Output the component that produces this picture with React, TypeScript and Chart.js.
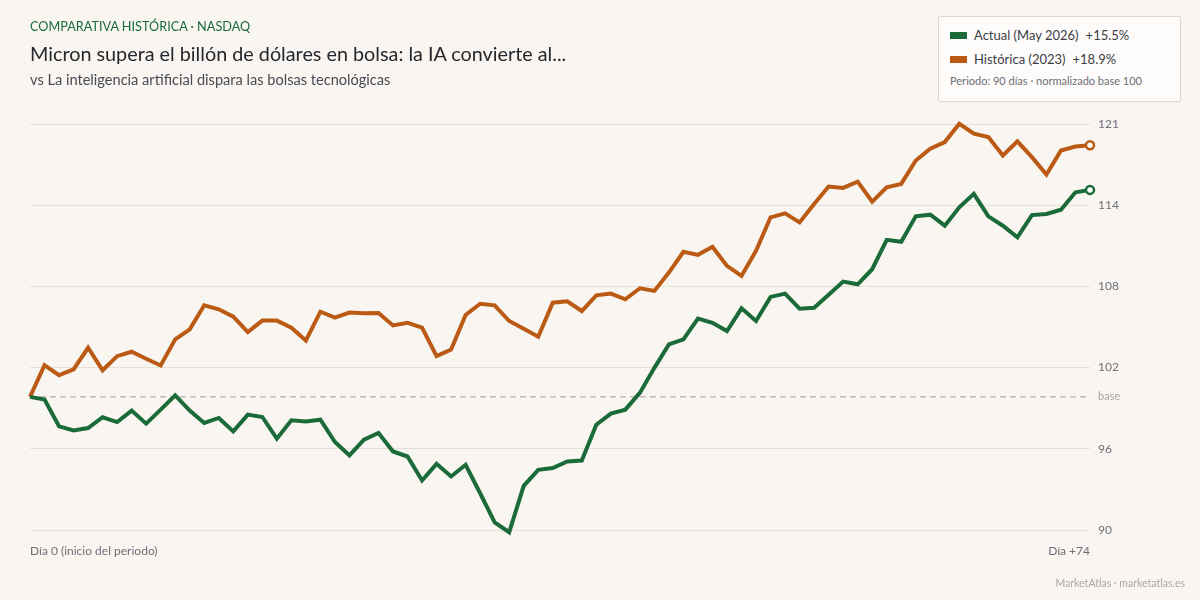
import { useEffect, useRef } from "react";
import { Chart, registerables } from "chart.js";

Chart.register(...registerables);

// ---- Data ----
const actualValues = [
  100.0, 99.8, 97.79, 97.48, 97.66, 98.47, 98.11, 98.97, 97.99, 99.04,
  100.12, 98.97, 98.04, 98.42, 97.41, 98.67, 98.49, 96.86, 98.24, 98.16,
  98.29, 96.61, 95.6, 96.78, 97.29, 95.9, 95.52, 93.72, 94.97, 94.02,
  94.9, 92.76, 90.58, 89.83, 93.32, 94.52, 94.65, 95.15, 95.22, 97.91,
  98.74, 99.04, 100.3, 102.18, 103.94, 104.32, 105.88, 105.57, 104.95, 106.65,
  105.7, 107.51, 107.76, 106.63, 106.7, 107.67, 108.66, 108.46, 109.59, 111.8,
  111.65, 113.56, 113.69, 112.86, 114.24, 115.25, 113.56, 112.86, 111.98, 113.66,
  113.74, 114.06, 115.37, 115.55,
];

const historicaValues = [
  100.0, 102.38, 101.63, 102.06, 103.69, 102.0, 103.06, 103.39, 102.86, 102.36,
  104.32, 105.07, 106.88, 106.58, 106.03, 104.87, 105.73, 105.73, 105.2, 104.24,
  106.4, 105.95, 106.33, 106.28, 106.3, 105.37, 105.57, 105.2, 103.06, 103.56,
  106.15, 107.0, 106.88, 105.7, 105.12, 104.52, 107.08, 107.18, 106.45, 107.63,
  107.76, 107.33, 108.16, 107.96, 109.34, 110.9, 110.67, 111.27, 109.84, 109.09,
  110.97, 113.49, 113.79, 113.11, 114.49, 115.8, 115.7, 116.17, 114.67, 115.75,
  116.0, 117.76, 118.64, 119.14, 120.52, 119.77, 119.52, 118.13, 119.19, 118.01,
  116.7, 118.51, 118.81, 118.9,
];

const dayCategories = actualValues.map((_, i) => String(i));
const baseValue = 100;
const baseLine = actualValues.map(() => baseValue);
const yTickValues = [90, 96.1, 102.2, 108.3, 114.4, 120.5];
const yTickLabels = ["90", "96", "102", "108", "114", "121"];
const baseLabel = "base";
const xFirstLabel = "Día 0 (inicio del periodo)";
const xLastLabel = "Día +74";

const seriesNames = ["Actual (May 2026)", "Histórica (2023)"];
const seriesChanges = ["+15.5%", "+18.9%"];

const GREEN = "#1a6a3a";
const ORANGE = "#bb5a14";
const BG = "#f9f6f1";
const FONT = "Lato, 'Noto Sans', sans-serif";

export default function App() {
  const canvasRef = useRef<HTMLCanvasElement | null>(null);

  useEffect(() => {
    const canvas = canvasRef.current;
    if (!canvas) return;
    const last = actualValues.length - 1;
    Chart.defaults.font.family = FONT;
    const chart = new Chart(canvas, {
      type: "line",
      data: {
        labels: dayCategories,
        datasets: [
          {
            label: "Actual",
            data: actualValues,
            borderColor: GREEN,
            backgroundColor: GREEN,
            borderWidth: 4,
            tension: 0,
            pointRadius: (ctx: any) => (ctx.dataIndex === last ? 4 : 0),
            pointBackgroundColor: "#ffffff",
            pointBorderColor: GREEN,
            pointBorderWidth: 2.5,
            clip: false,
            order: 1,
          },
          {
            label: "Histórica",
            data: historicaValues,
            borderColor: ORANGE,
            backgroundColor: ORANGE,
            borderWidth: 4,
            tension: 0,
            pointRadius: (ctx: any) => (ctx.dataIndex === last ? 4 : 0),
            pointBackgroundColor: "#ffffff",
            pointBorderColor: ORANGE,
            pointBorderWidth: 2.5,
            clip: false,
            order: 2,
          },
          {
            label: "base",
            data: baseLine,
            borderColor: "#a39e98",
            borderWidth: 1,
            borderDash: [6, 4],
            pointRadius: 0,
            tension: 0,
            order: 3,
          },
        ],
      },
      options: {
        responsive: false,
        animation: false,
        layout: { padding: { left: 30, top: 124, right: 0, bottom: 40 } },
        plugins: {
          legend: { display: false },
          tooltip: { enabled: false },
        },
        scales: {
          x: {
            type: "category",
            offset: false,
            grid: { display: false },
            border: { display: false },
            ticks: {
              autoSkip: false,
              maxRotation: 0,
              minRotation: 0,
              align: "inner",
              padding: 6,
              color: "#6e6e7a",
              font: { size: 12, family: FONT },
              callback: (_v: any, i: number, ticks: any[]) =>
                i === 0 ? xFirstLabel : i === ticks.length - 1 ? xLastLabel : "",
            },
            afterFit: (s: any) => {
              s.height = 30;
            },
          },
          y: {
            position: "right",
            min: 90,
            max: 120.5,
            afterBuildTicks: (s: any) => {
              s.ticks = [...yTickValues, baseValue]
                .sort((a, b) => a - b)
                .map((v) => ({ value: v }));
            },
            grid: {
              drawTicks: false,
              lineWidth: 1,
              color: (ctx: any) =>
                ctx.tick && ctx.tick.value === baseValue ? "rgba(0,0,0,0)" : "#e6e1d8",
            },
            border: { display: false },
            ticks: {
              padding: 8,
              color: (ctx: any) =>
                ctx.tick && ctx.tick.value === baseValue ? "#a8a6a4" : "#6e6e7a",
              font: (ctx: any) => ({
                size: ctx.tick && ctx.tick.value === baseValue ? 11 : 12,
                family: FONT,
              }),
              callback: (v: any) =>
                v === baseValue ? baseLabel : yTickLabels[yTickValues.indexOf(v)] ?? "",
            },
            afterFit: (s: any) => {
              s.width = 110;
            },
          },
        },
      } as any,
    });
    return () => chart.destroy();
  }, []);

  return (
    <div
      style={{
        position: "fixed",
        left: 0,
        top: 0,
        width: 1200,
        height: 600,
        background: BG,
        fontFamily: FONT,
        overflow: "hidden",
      }}
    >
      <canvas
        ref={canvasRef}
        width={1200}
        height={600}
        style={{ position: "absolute", left: 0, top: 0, width: 1200, height: 600 }}
      />
      <div
        style={{
          position: "absolute",
          left: 30,
          top: 18,
          fontSize: 12.7,
          lineHeight: "16px",
          color: GREEN,
          whiteSpace: "nowrap",
        }}
      >
        COMPARATIVA HISTÓRICA · NASDAQ
      </div>
      <div
        style={{
          position: "absolute",
          left: 30,
          top: 41,
          fontSize: 19.8,
          lineHeight: "24px",
          color: "#26262e",
          whiteSpace: "nowrap",
        }}
      >
        Micron supera el billón de dólares en bolsa: la IA convierte al...
      </div>
      <div
        style={{
          position: "absolute",
          left: 30,
          top: 71,
          fontSize: 14.6,
          lineHeight: "18px",
          color: "#4a4a55",
          whiteSpace: "nowrap",
        }}
      >
        vs La inteligencia artificial dispara las bolsas tecnológicas
      </div>

      <div
        style={{
          position: "absolute",
          left: 938,
          top: 16,
          width: 243,
          height: 86,
          boxSizing: "border-box",
          background: "#fdfcfa",
          border: "1px solid #ddd7cc",
          borderRadius: 2,
        }}
      >
        {[GREEN, ORANGE].map((c, i) => (
          <div
            key={i}
            style={{
              position: "absolute",
              left: 11,
              top: 9 + i * 24,
              height: 18,
              display: "flex",
              alignItems: "center",
              whiteSpace: "nowrap",
            }}
          >
            <span style={{ display: "inline-block", width: 17, height: 7, background: c }} />
            <span style={{ marginLeft: 7, fontSize: 13, color: "#3c3c46" }}>
              {seriesNames[i]}
              <span style={{ marginLeft: 7 }}>{seriesChanges[i]}</span>
            </span>
          </div>
        ))}
        <div
          style={{
            position: "absolute",
            left: 11,
            top: 57,
            fontSize: 11,
            lineHeight: "14px",
            color: "#6e6e78",
            whiteSpace: "nowrap",
          }}
        >
          Periodo: 90 días · normalizado base 100
        </div>
      </div>

      <div
        style={{
          position: "absolute",
          right: 15,
          top: 576,
          fontSize: 10.5,
          lineHeight: "14px",
          color: "#aaa6a1",
          whiteSpace: "nowrap",
        }}
      >
        MarketAtlas · marketatlas.es
      </div>
    </div>
  );
}
